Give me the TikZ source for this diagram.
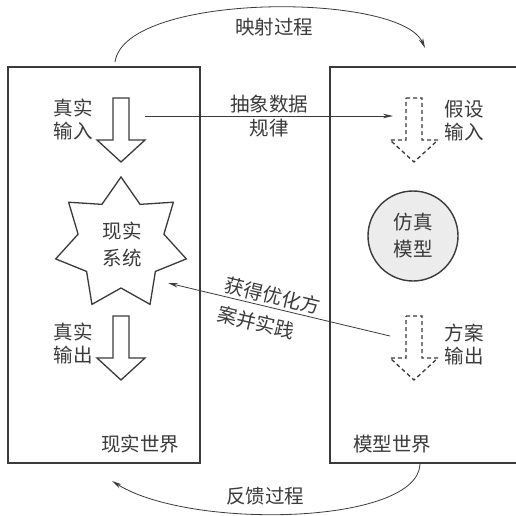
\documentclass[tikz,border=0pt]{standalone}
\usepackage{fontspec}
\newfontfamily\cjk{Noto Sans CJK SC}
\usetikzlibrary{arrows.meta}
\definecolor{ink}{HTML}{3A3A3A}
\tikzset{
  lbl/.style={font=\cjk\fontsize{19.5}{23}\selectfont, text=ink, align=center, inner sep=0pt},
  world/.style={draw=ink, line width=1.6pt, inner sep=0pt},
  conn/.style={draw=ink, line width=0.8pt, -{Stealth[length=10pt,width=4.5pt]}},
  hollowarrow/.pic={\draw[pic actions] (-8,0) -- (8,0) -- (8,42) -- (24,42) -- (0,64) -- (-24,42) -- (-8,42) -- cycle;},
  solidarr/.style={draw=ink, line width=1.3pt, line join=miter},
  dasharr/.style={draw=ink, line width=1.3pt, dash pattern=on 4pt off 3pt},
  starline/.style={draw=ink, line width=1.3pt, line join=miter},
}
\begin{document}
\begin{tikzpicture}[x=1pt,y=-1pt]
\useasboundingbox (0,0) rectangle (516,516);
\clip (0,0) rectangle (516,516);
% worlds
\node[world, minimum width=192pt, minimum height=396pt] (real) at (104,265) {};
\node[world, minimum width=210pt, minimum height=396pt] (model) at (435,265) {};
% hollow arrows
\pic[solidarr] (rin) at (121,98) {hollowarrow};
\pic[solidarr] (rout) at (121,316) {hollowarrow};
\pic[dasharr] (hin) at (414,98) {hollowarrow};
\pic[dasharr] (hout) at (414,316) {hollowarrow};
% star (7 points)
\coordinate (sys) at (121,244);
\draw[starline, shift={(121,244)}] (-90:67)
  \foreach \i in {1,...,13} { -- ({-90+\i*360/14}:{mod(\i,2)==0 ? 67 : 44}) } -- cycle;
\node[lbl, font=\cjk\fontsize{19.5}{27}\selectfont] (systxt) at (122,244) {现实\\系统};
% circle
\node[circle, draw=ink, fill=gray!15, line width=1.4pt, minimum size=90pt, inner sep=0pt,
      lbl, font=\cjk\fontsize{19.5}{27}\selectfont] (sim) at (413,236) {仿真\\模型};
% labels
\node[lbl] (tin) at (73,120) {真实\\输入};
\node[lbl] (tout) at (73,344) {真实\\输出};
\node[lbl] (hyp) at (464,121) {假设\\输入};
\node[lbl] (plan) at (464,345) {方案\\输出};
\node[lbl] (rw) at (140,444) {现实世界};
\node[lbl] (mw) at (392,444) {模型世界};
\node[lbl] (map) at (274,27) {映射过程};
\node[lbl] (fb) at (265,496) {反馈过程};
% connectors
\coordinate (a1) at (145,116);
\coordinate (a2) at (393,116);
\draw[conn] (a1) -- node[lbl, font=\cjk\fontsize{19.5}{24}\selectfont] (abs) {抽象数据\\规律} (a2);
\coordinate (d1) at (390,336);
\coordinate (d2) at (168,283);
\draw[conn] (d1) -- node[lbl, sloped, pos=0.54, yshift=-3pt, align=left, font=\cjk\fontsize{19.5}{30}\selectfont] (opt) {获得优化方\\案并实践} (d2);
\coordinate (ms) at (115,62);
\coordinate (me) at (425,48);
\draw[conn] (ms) .. controls (125,-8) and (400,-8) .. (me);
\coordinate (fs) at (420,464);
\coordinate (fe) at (112,481);
\draw[conn] (fs) .. controls (418,525) and (190,530) .. (fe);
\end{tikzpicture}
\end{document}
